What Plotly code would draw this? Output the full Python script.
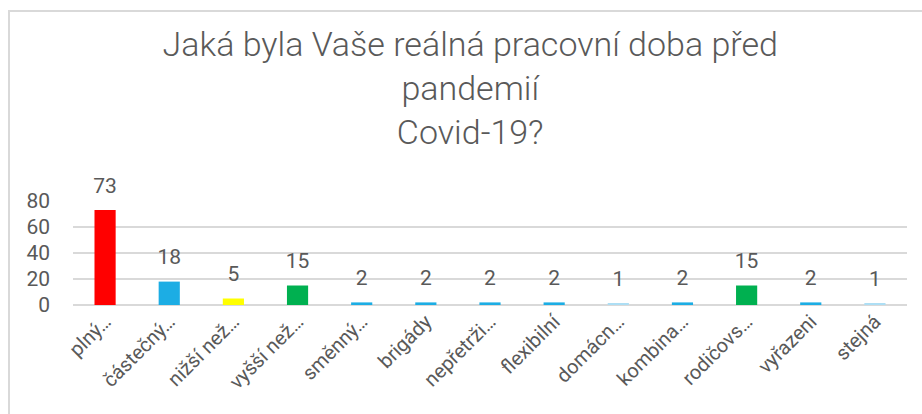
import plotly.graph_objects as go

categories = ["plný…", "částečný…", "nižší než…", "vyšší než…", "směnný…", "brigády",
              "nepřetrži…", "flexibilní", "domácn…", "kombina…", "rodičovs…", "vyřazeni", "stejná"]
values = [73, 18, 5, 15, 2, 2, 2, 2, 1, 2, 15, 2, 1]
bar_colors = ["#FF0000", "#1CADE4", "#FFFF00", "#00B050", "#1CADE4", "#1CADE4",
              "#1CADE4", "#1CADE4", "#ADDEF4", "#1CADE4", "#00B050", "#1CADE4", "#ADDEF4"]
y_ticks = [0, 20, 40, 60, 80]

FONT = "Roboto"
GREY = "#595959"

# plot area in pixels
L, R, T, B = 73, 907, 201, 305
PW, PH = R - L, B - T

fig = go.Figure()
fig.add_trace(go.Bar(
    x=categories, y=values,
    marker=dict(color=bar_colors, line=dict(width=0)),
    width=0.33,
    hoverinfo="x+y",
))
fig.add_trace(go.Scatter(
    x=categories, y=values,
    mode="markers+text",
    marker=dict(size=18, color="rgba(0,0,0,0)"),
    text=[str(v) for v in values],
    textposition="top center",
    textfont=dict(family=FONT, size=21, color=GREY),
    cliponaxis=False,
    hoverinfo="skip",
))

fig.update_layout(
    width=922, height=414,
    margin=dict(l=L, r=922 - R, t=T, b=414 - B, autoexpand=False),
    paper_bgcolor="white", plot_bgcolor="white",
    showlegend=False,
    title=dict(
        text="Jaká byla Vaše reálná pracovní doba před<br>pandemií<br>Covid-19?",
        x=0.51, xanchor="center", y=1 - 56 / 414, yanchor="middle",
        font=dict(family=FONT, size=34, color=GREY, weight=300),
    ),
    xaxis=dict(
        range=[-0.5, len(categories) - 0.5],
        tickangle=-45, tickfont=dict(family=FONT, size=20, color=GREY),
        showline=False, showgrid=False, ticks="", automargin=False,
    ),
    yaxis=dict(
        range=[0, 80], tickvals=y_ticks, tickfont=dict(family=FONT, size=21, color=GREY),
        showgrid=True, gridcolor="#D9D9D9", gridwidth=1.5,
        zeroline=True, zerolinecolor="#D9D9D9", zerolinewidth=1.5,
        ticks="", ticklabelstandoff=22, automargin=False,
    ),
    shapes=[dict(type="rect", xref="paper", yref="paper",
                 x0=(9 - L) / PW, x1=(940 - L) / PW,
                 y0=(B - 430) / PH, y1=(B - 11) / PH,
                 line=dict(color="#D9D9D9", width=2))],
)

fig.write_html("out.html", config={"displayModeBar": False},
               post_script="document.body.style.margin='0';document.body.style.overflow='hidden';")
